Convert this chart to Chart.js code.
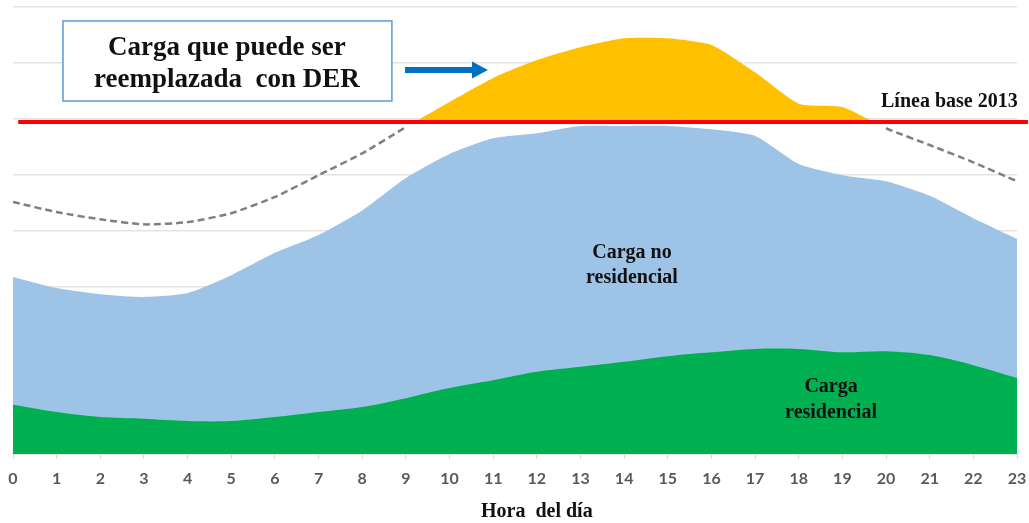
<!DOCTYPE html>
<html><head><meta charset="utf-8">
<script src="https://cdn.jsdelivr.net/npm/chart.js@4/dist/chart.umd.min.js"></script>
<style>html,body{margin:0;padding:0;background:#fff}#wrap{width:1029px;height:523px;position:relative}</style>
</head><body><div id="wrap"><canvas id="c"></canvas></div>
<script>
// ---- data ----
const hours = [0,1,2,3,4,5,6,7,8,9,10,11,12,13,14,15,16,17,18,19,20,21,22,23];
const cargaResidencial = [0.88,0.75,0.66,0.63,0.59,0.59,0.66,0.75,0.84,1.00,1.18,1.32,1.47,1.56,1.65,1.75,1.82,1.88,1.88,1.82,1.84,1.77,1.59,1.36];
const cargaTotal = [3.17,2.97,2.86,2.81,2.88,3.20,3.60,3.92,4.36,4.94,5.37,5.65,5.74,5.87,5.87,5.87,5.81,5.69,5.19,4.99,4.88,4.62,4.22,3.85];
const cargaProyectada = [4.51,4.33,4.20,4.11,4.15,4.31,4.60,4.99,5.38,5.85,6.30,6.73,7.05,7.28,7.44,7.44,7.32,6.83,6.27,6.21,5.83,5.53,5.22,4.88];
const lineaBase2013 = 5.94;
const xTickLabels = hours.map(h => String(h));
const yGridValues = [0,1,2,3,4,5,6,7,8];

const pts = arr => hours.map((h, i) => ({x: h, y: arr[i]}));

const serif = '"Liberation Serif", "Times New Roman", serif';

const annotations = {
  id: 'annotations',
  afterDatasetsDraw(chart) {
    const {ctx, scales: {x, y}} = chart;
    ctx.save();
    // baseline 2013 (red)
    const yb = y.getPixelForValue(lineaBase2013);
    ctx.strokeStyle = '#FF0000';
    ctx.lineWidth = 4;
    ctx.beginPath();
    ctx.moveTo(x.getPixelForValue(0.12), yb);
    ctx.lineTo(chart.width - 1, yb);
    ctx.stroke();

    // box
    const bx0 = x.getPixelForValue(1.145), bx1 = x.getPixelForValue(8.68);
    const by0 = y.getPixelForValue(7.75), by1 = y.getPixelForValue(6.318);
    ctx.fillStyle = '#fff';
    ctx.fillRect(bx0, by0, bx1 - bx0, by1 - by0);
    ctx.strokeStyle = '#5B9BD5';
    ctx.lineWidth = 1.5;
    ctx.strokeRect(bx0, by0, bx1 - bx0, by1 - by0);

    ctx.fillStyle = '#111';
    ctx.textAlign = 'center';
    ctx.textBaseline = 'middle';
    ctx.font = 'bold 27px ' + serif;
    ctx.fillText('Carga que puede ser', x.getPixelForValue(4.9), y.getPixelForValue(7.266));
    ctx.fillText('reemplazada  con DER', x.getPixelForValue(4.9), y.getPixelForValue(6.694));

    // arrow
    const ay = y.getPixelForValue(6.873);
    const ax0 = x.getPixelForValue(8.98), axh = x.getPixelForValue(10.515), ax1 = x.getPixelForValue(10.88);
    ctx.fillStyle = '#0070C0';
    ctx.fillRect(ax0, ay - 3, axh - ax0, 6);
    ctx.beginPath();
    ctx.moveTo(axh, ay - 8.5);
    ctx.lineTo(ax1, ay);
    ctx.lineTo(axh, ay + 8.5);
    ctx.closePath();
    ctx.fill();

    // labels
    ctx.fillStyle = '#111';
    ctx.font = 'bold 20px ' + serif;
    ctx.fillText('Línea base 2013', x.getPixelForValue(21.45), y.getPixelForValue(6.30));
    ctx.fillText('Carga no', x.getPixelForValue(14.18), y.getPixelForValue(3.597));
    ctx.fillText('residencial', x.getPixelForValue(14.18), y.getPixelForValue(3.15));
    ctx.fillText('Carga', x.getPixelForValue(18.74), y.getPixelForValue(1.199));
    ctx.fillText('residencial', x.getPixelForValue(18.74), y.getPixelForValue(0.734));

    // axis title
    ctx.font = 'bold 20px ' + serif;
    ctx.fillText('Hora  del día', x.getPixelForValue(12), 512);
    ctx.restore();
  }
};

new Chart(document.getElementById('c'), {
  type: 'line',
  data: {
    datasets: [
      {
        label: 'Carga proyectada',
        data: pts(cargaProyectada),
        order: 3,
        borderColor: '#7f7f7f',
        borderWidth: 2.5,
        borderDash: [7, 4],
        pointRadius: 0,
        tension: 0.2,
        fill: {target: {value: lineaBase2013}, above: '#FFC000', below: 'rgba(0,0,0,0)'},
        segment: {
          borderColor: c => (c.p0.parsed.y > lineaBase2013 || c.p1.parsed.y > lineaBase2013) ? 'rgba(0,0,0,0)' : '#7f7f7f'
        }
      },
      {
        label: 'Carga no residencial',
        data: pts(cargaTotal),
        order: 2,
        borderWidth: 0,
        borderColor: 'rgba(0,0,0,0)',
        backgroundColor: '#9DC3E6',
        pointRadius: 0,
        tension: 0.2,
        fill: 'origin'
      },
      {
        label: 'Carga residencial',
        data: pts(cargaResidencial),
        order: 1,
        borderWidth: 0,
        borderColor: 'rgba(0,0,0,0)',
        backgroundColor: '#00B050',
        pointRadius: 0,
        tension: 0.3,
        fill: 'origin'
      }
    ]
  },
  options: {
    responsive: true,
    maintainAspectRatio: false,
    animation: false,
    events: [],
    layout: {padding: {left: 13, right: 12, top: 7, bottom: 0}},
    plugins: {legend: {display: false}, tooltip: {enabled: false}},
    scales: {
      x: {
        type: 'linear',
        min: 0, max: 23,
        afterFit: s => { s.height = 69; s.paddingLeft = 0; s.paddingRight = 0; },
        afterBuildTicks: s => { s.ticks = hours.map(v => ({value: v})); },
        ticks: {
          callback: (v, i) => xTickLabels[i],
          autoSkip: false,
          maxRotation: 0,
          padding: 10,
          color: '#595959',
          font: {family: 'Lato, "Open Sans", sans-serif', size: 16, weight: 'bold'}
        },
        grid: {drawOnChartArea: false, drawTicks: true, tickLength: 5, color: '#d9d9d9', lineWidth: 1},
        border: {display: true, color: '#d9d9d9', width: 1.5}
      },
      y: {
        min: 0, max: 8,
        afterFit: s => { s.width = 0; s.paddingTop = 0; s.paddingBottom = 0; },
        afterBuildTicks: s => { s.ticks = yGridValues.map(v => ({value: v})); },
        ticks: {display: false},
        grid: {drawTicks: false, color: '#e3e3e3', lineWidth: 1.5},
        border: {display: false}
      }
    }
  },
  plugins: [annotations]
});
</script>
</body></html>
